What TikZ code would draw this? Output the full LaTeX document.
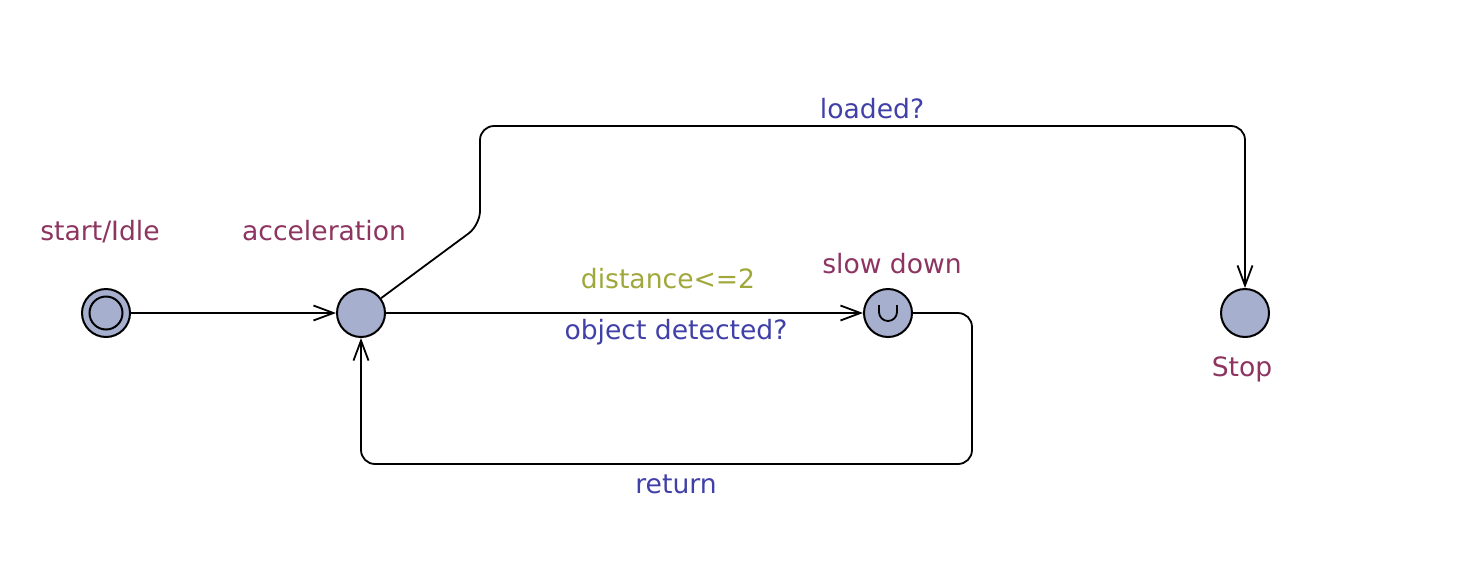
\documentclass[tikz,border=0pt]{standalone}
\usepackage{fontspec}
\setmainfont{DejaVu Sans}
\usetikzlibrary{arrows.meta}
\definecolor{locname}{RGB}{142,52,96}
\definecolor{synccol}{RGB}{64,64,168}
\definecolor{guardcol}{RGB}{160,168,60}
\definecolor{locfill}{RGB}{166,176,206}
\tikzset{
  loc/.style={circle,draw=black,line width=2pt,fill=locfill,minimum size=48pt,inner sep=0pt},
  lbl/.style={anchor=base,inner sep=0pt,font=\fontsize{26.6}{32}\selectfont},
  locl/.style={lbl,text=locname},
  syncl/.style={lbl,text=synccol},
  guardl/.style={lbl,text=guardcol},
  edge/.style={line width=1.8pt,rounded corners=14pt,-{Straight Barb[length=20pt,width=15pt,line width=1.8pt]}}
}
\begin{document}
\begin{tikzpicture}[x=1pt,y=-1pt]
\useasboundingbox (0,0) rectangle (1466,568);
\fill[white] (0,0) rectangle (1466,568);
% locations
\node[loc] (idle) at (106,313) {};
\node[circle,draw=black,line width=2pt,minimum size=33pt,inner sep=0pt] (idlein) at (106,313) {};
\node[loc] (acc) at (361,313) {};
\node[loc] (slow) at (888,313) {};
\node[loc] (stop) at (1245,313) {};
\draw[line width=1.8pt] (879,305) -- (879,312) arc[start angle=180,end angle=0,radius=9] -- (897,305);
% location names
\node[locl] (nidle) at (100,240) {start/Idle};
\node[locl] (nacc) at (324,240) {acceleration};
\node[locl] (nslow) at (892,273) {slow down};
\node[locl] (nstop) at (1242,376) {Stop};
% waypoints
\coordinate (b1) at (480,225);
\coordinate (b2) at (480,126);
\coordinate (b3) at (1245,126);
\coordinate (c1) at (972,313);
\coordinate (c2) at (972,464);
\coordinate (c3) at (361,464);
% edges
\draw[edge] (idle) -- (acc);
\draw[edge] (acc) -- (slow);
\draw[edge] (acc) -- (b1) -- (b2) -- (b3) -- (stop);
\draw[edge] (slow) -- (c1) -- (c2) -- (c3) -- (acc);
% edge labels
\node[syncl] (lloaded) at (872,118) {loaded?};
\node[guardl] (ldist) at (668,288) {distance<=2};
\node[syncl] (lobj) at (676,339) {object detected?};
\node[syncl] (lret) at (676,493) {return};
\end{tikzpicture}
\end{document}
